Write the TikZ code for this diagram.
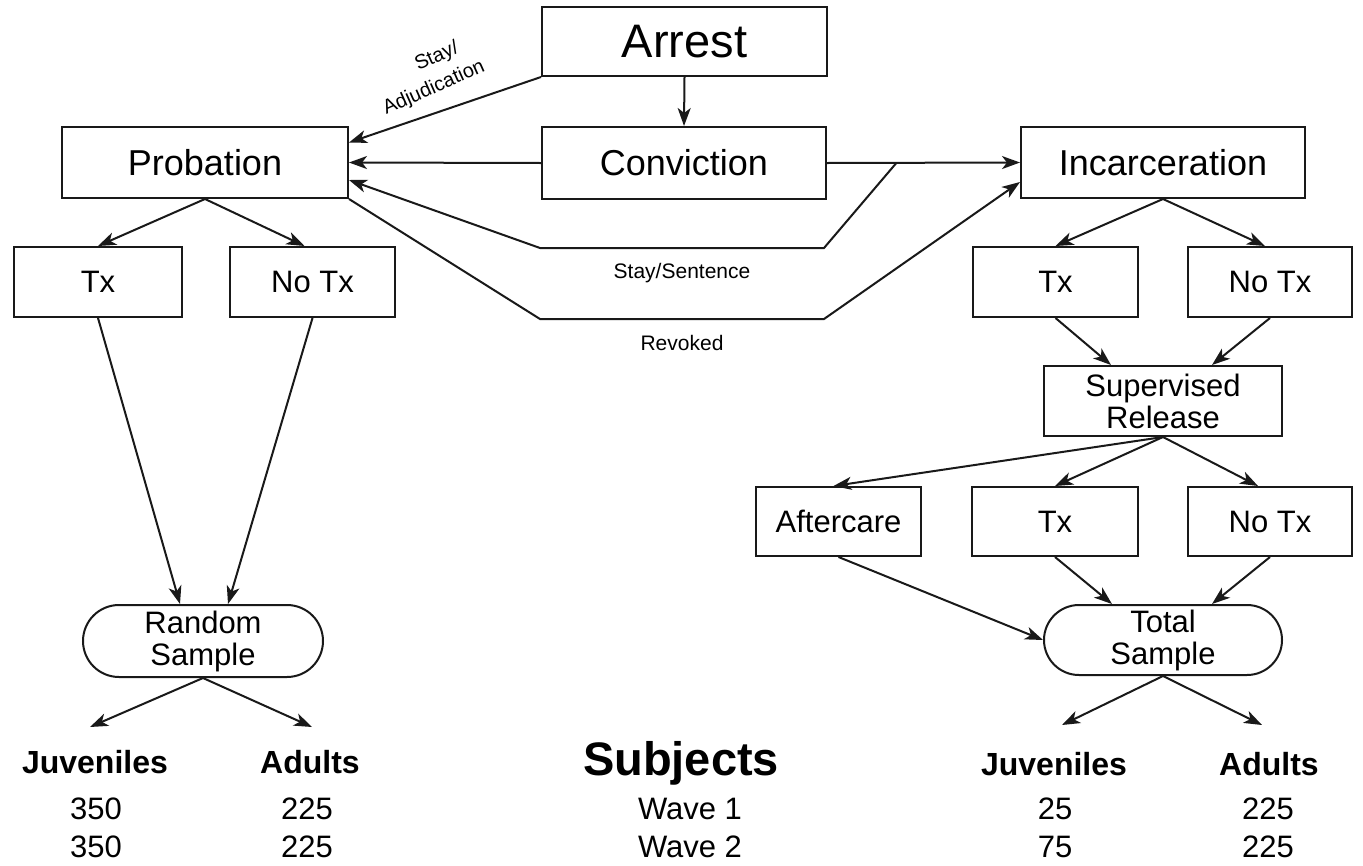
\documentclass[tikz,border=0pt]{standalone}
\usepackage{fontspec}
\setmainfont{Liberation Sans}
\usetikzlibrary{arrows.meta,shapes.misc,calc}
\tikzset{
  ink/.style={draw=black!90, line width=2pt},
  box/.style={ink, rectangle, inner sep=0pt, align=center, font=\fontsize{31}{32}\selectfont},
  pill/.style={ink, rounded rectangle, inner sep=0pt, align=center, font=\fontsize{31}{32}\selectfont},
  arr/.style={draw=black!90, line width=2pt, -{Stealth[length=18pt,width=13pt,inset=5pt]}},
  lab/.style={inner sep=0pt, font=\fontsize{21}{22}\selectfont},
  head/.style={anchor=base, inner sep=0pt, font=\fontsize{32}{34}\selectfont\bfseries},
  num/.style={anchor=base, inner sep=0pt, font=\fontsize{31}{32}\selectfont},
}
\begin{document}
\begin{tikzpicture}[x=1pt,y=-1pt]
\useasboundingbox (0,0) rectangle (1363,865);

% boxes
\node[box, minimum width=285pt, minimum height=69pt, font=\fontsize{47}{50}\selectfont] (arrest) at (684.5,41.5) {Arrest};
\node[box, minimum width=284pt, minimum height=72pt, font=\fontsize{36}{38}\selectfont] (conv) at (684,163) {Conviction};
\node[box, minimum width=286pt, minimum height=71pt, font=\fontsize{36}{38}\selectfont] (prob) at (205,162.5) {Probation};
\node[box, minimum width=284pt, minimum height=71pt, font=\fontsize{36}{38}\selectfont] (inc) at (1163,162.5) {Incarceration};

\node[box, minimum width=168pt, minimum height=70pt] (txl) at (98,282) {Tx};
\node[box, minimum width=165pt, minimum height=70pt] (ntxl) at (312.5,282) {No Tx};
\node[box, minimum width=165pt, minimum height=70pt] (txr) at (1055.5,282) {Tx};
\node[box, minimum width=164pt, minimum height=70pt] (ntxr) at (1270,282) {No Tx};

\node[box, minimum width=238pt, minimum height=70pt] (sr) at (1163,401) {Supervised\\Release};

\node[box, minimum width=165pt, minimum height=69pt] (aft) at (838.5,521.5) {Aftercare};
\node[box, minimum width=166pt, minimum height=69pt] (tx3) at (1055,521.5) {Tx};
\node[box, minimum width=164pt, minimum height=69pt] (ntx3) at (1270,521.5) {No Tx};

\node[pill, minimum width=240pt, minimum height=72pt] (rs) at (203,641) {Random\\Sample};
\node[pill, minimum width=238pt, minimum height=70pt] (ts) at (1163,640) {Total\\Sample};

% routing points
\coordinate (b1) at ($(conv.east)!0.36!(inc.west)$);
\coordinate (s1) at (824,248);
\coordinate (s2) at (540,248);
\coordinate (r1) at (540,319);
\coordinate (r2) at (824,319);
\coordinate (j1) at (90,727);
\coordinate (a1) at (312,727);
\coordinate (j2) at (1062,725);
\coordinate (a2) at (1262,725);

% top connectors
\draw[arr] (arrest.south) -- (conv.north);
\draw[arr] (arrest.south west) -- ([yshift=20pt]prob.east);
\draw[arr] (conv.west) -- (prob.east);
\draw[arr] (conv.east) -- (inc.west);
\draw[arr] (b1) -- (s1) -- (s2) -- ([yshift=-17.5pt]prob.east);
\draw[arr] (prob.south east) -- (r1) -- (r2) -- ([yshift=-19.5pt]inc.west);

\node[lab, rotate=24, font=\fontsize{20}{22}\selectfont] (stay) at (437,57) {Stay/};
\node[lab, rotate=24, font=\fontsize{20}{22}\selectfont] (adj) at (434,88) {Adjudication};
\node[lab] (staysent) at (682,273) {Stay/Sentence};
\node[lab] (revoked) at (682,343) {Revoked};

% probation branch
\draw[arr] (prob.south) -- (txl.north);
\draw[arr] (prob.south) -- ([xshift=-8pt]ntxl.north);
\draw[arr] (txl.south) -- ([xshift=-23pt]rs.north);
\draw[arr] (ntxl.south) -- ([xshift=25pt]rs.north);
\draw[arr] (rs.south) -- (j1);
\draw[arr] (rs.south) -- (a1);

% incarceration branch
\draw[arr] (inc.south) -- (txr.north);
\draw[arr] (inc.south) -- ([xshift=-5pt]ntxr.north);
\draw[arr] (txr.south) -- ([xshift=-52pt]sr.north);
\draw[arr] (ntxr.south) -- ([xshift=49pt]sr.north);
\draw[arr] (sr.south) -- ([xshift=-5pt]aft.north);
\draw[arr] (sr.south) -- (tx3.north);
\draw[arr] (sr.south) -- ([xshift=-12pt]ntx3.north);
\draw[arr] (aft.south) -- (ts.west);
\draw[arr] (tx3.south) -- ([xshift=-51pt]ts.north);
\draw[arr] (ntx3.south) -- ([xshift=49pt]ts.north);
\draw[arr] (ts.south) -- (j2);
\draw[arr] (ts.south) -- (a2);

% bottom table
\node[head] (juvL) at (95,773) {Juveniles};
\node[head] (adL) at (310,773) {Adults};
\node[head, font=\fontsize{47}{50}\selectfont\bfseries] (subj) at (681,775) {Subjects};
\node[head] (juvR) at (1054,775) {Juveniles};
\node[head] (adR) at (1269,775) {Adults};

\node[num] (l11) at (96,819) {350};
\node[num] (l12) at (307,819) {225};
\node[num] (w1) at (690,819) {Wave 1};
\node[num] (r11) at (1055,819) {25};
\node[num] (r12) at (1268,819) {225};

\node[num] (l21) at (96,857) {350};
\node[num] (l22) at (307,857) {225};
\node[num] (w2) at (690,857) {Wave 2};
\node[num] (r21) at (1055,857) {75};
\node[num] (r22) at (1268,857) {225};
\end{tikzpicture}
\end{document}
